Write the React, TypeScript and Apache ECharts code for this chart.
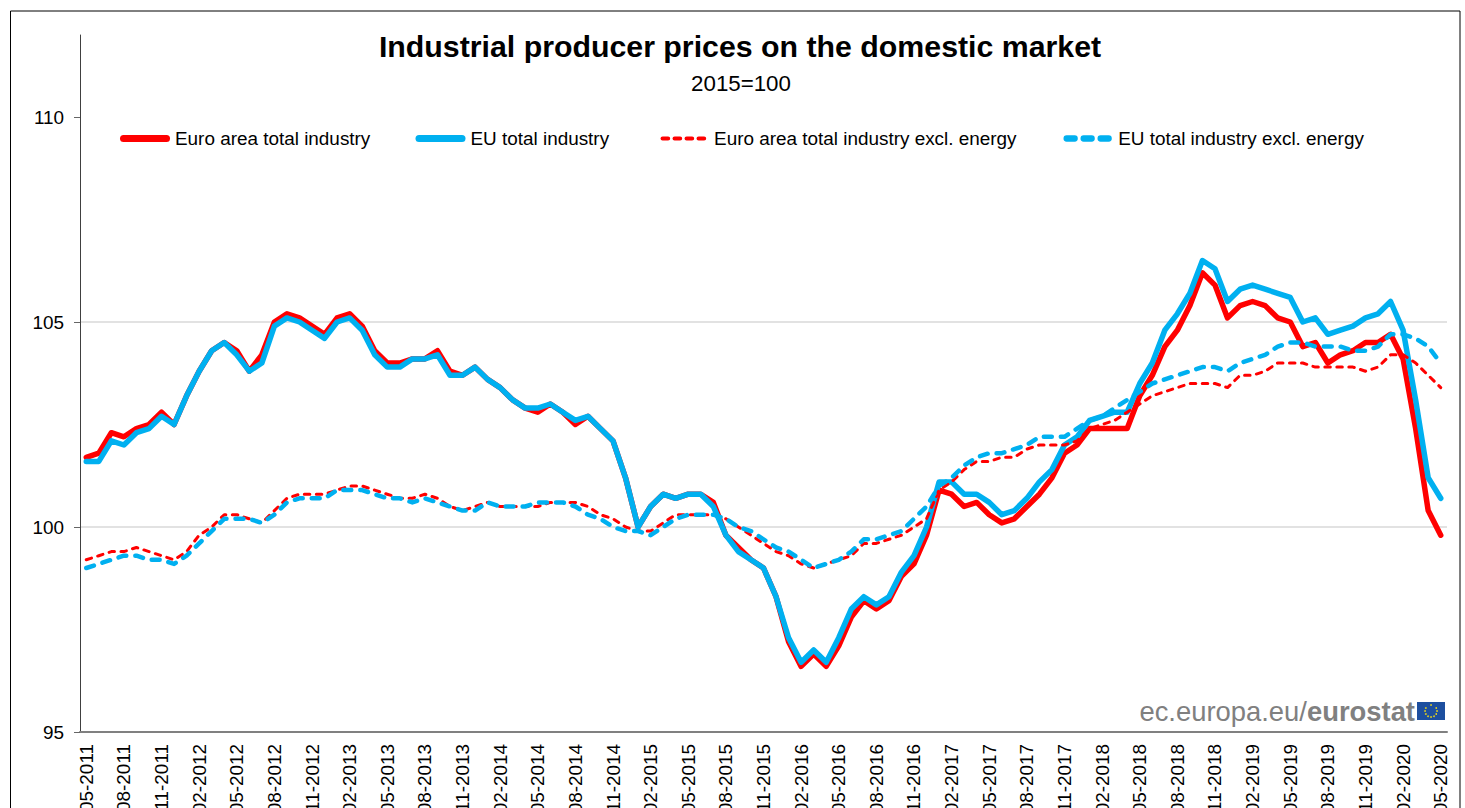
import React, { useEffect, useRef } from "react";
import * as echarts from "echarts";

const categories = [
  "05-2011","06-2011","07-2011","08-2011","09-2011","10-2011","11-2011","12-2011",
  "01-2012","02-2012","03-2012","04-2012","05-2012","06-2012","07-2012","08-2012","09-2012","10-2012","11-2012","12-2012",
  "01-2013","02-2013","03-2013","04-2013","05-2013","06-2013","07-2013","08-2013","09-2013","10-2013","11-2013","12-2013",
  "01-2014","02-2014","03-2014","04-2014","05-2014","06-2014","07-2014","08-2014","09-2014","10-2014","11-2014","12-2014",
  "01-2015","02-2015","03-2015","04-2015","05-2015","06-2015","07-2015","08-2015","09-2015","10-2015","11-2015","12-2015",
  "01-2016","02-2016","03-2016","04-2016","05-2016","06-2016","07-2016","08-2016","09-2016","10-2016","11-2016","12-2016",
  "01-2017","02-2017","03-2017","04-2017","05-2017","06-2017","07-2017","08-2017","09-2017","10-2017","11-2017","12-2017",
  "01-2018","02-2018","03-2018","04-2018","05-2018","06-2018","07-2018","08-2018","09-2018","10-2018","11-2018","12-2018",
  "01-2019","02-2019","03-2019","04-2019","05-2019","06-2019","07-2019","08-2019","09-2019","10-2019","11-2019","12-2019",
  "01-2020","02-2020","03-2020","04-2020","05-2020",
];

const euroTotal = [
  101.7,101.8,102.3,102.2,102.4,102.5,102.8,102.5,
  103.2,103.8,104.3,104.5,104.3,103.8,104.2,105.0,105.2,105.1,104.9,104.7,
  105.1,105.2,104.9,104.3,104.0,104.0,104.1,104.1,104.3,103.8,103.7,103.9,
  103.6,103.4,103.1,102.9,102.8,103.0,102.8,102.5,102.7,102.4,102.1,101.2,
  100.0,100.5,100.8,100.7,100.8,100.8,100.6,99.8,99.5,99.2,99.0,98.3,
  97.2,96.6,96.9,96.6,97.1,97.8,98.2,98.0,98.2,98.8,99.1,99.8,
  100.9,100.8,100.5,100.6,100.3,100.1,100.2,100.5,100.8,101.2,101.8,102.0,
  102.4,102.4,102.4,102.4,103.2,103.7,104.4,104.8,105.4,106.2,105.9,105.1,
  105.4,105.5,105.4,105.1,105.0,104.4,104.5,104.0,104.2,104.3,104.5,104.5,
  104.7,104.1,102.4,100.4,99.8,
];

const euTotal = [
  101.6,101.6,102.1,102.0,102.3,102.4,102.7,102.5,
  103.2,103.8,104.3,104.5,104.2,103.8,104.0,104.9,105.1,105.0,104.8,104.6,
  105.0,105.1,104.8,104.2,103.9,103.9,104.1,104.1,104.2,103.7,103.7,103.9,
  103.6,103.4,103.1,102.9,102.9,103.0,102.8,102.6,102.7,102.4,102.1,101.2,
  100.0,100.5,100.8,100.7,100.8,100.8,100.5,99.8,99.4,99.2,99.0,98.3,
  97.3,96.7,97.0,96.7,97.3,98.0,98.3,98.1,98.3,98.9,99.3,100.0,
  101.1,101.1,100.8,100.8,100.6,100.3,100.4,100.7,101.1,101.4,102.0,102.2,
  102.6,102.7,102.8,102.8,103.5,104.0,104.8,105.2,105.7,106.5,106.3,105.5,
  105.8,105.9,105.8,105.7,105.6,105.0,105.1,104.7,104.8,104.9,105.1,105.2,
  105.5,104.8,103.1,101.2,100.7,
];

const euroExEnergy = [
  99.2,99.3,99.4,99.4,99.5,99.4,99.3,99.2,
  99.4,99.8,100.0,100.3,100.3,100.2,100.1,100.4,100.7,100.8,100.8,100.8,
  100.9,101.0,101.0,100.9,100.8,100.7,100.7,100.8,100.7,100.5,100.4,100.5,
  100.6,100.5,100.5,100.5,100.5,100.6,100.6,100.6,100.5,100.3,100.2,100.0,
  99.9,99.9,100.1,100.3,100.3,100.3,100.3,100.2,100.0,99.8,99.6,99.4,
  99.3,99.1,99.0,99.1,99.2,99.3,99.6,99.6,99.7,99.8,100.0,100.2,
  100.9,101.1,101.4,101.6,101.6,101.7,101.7,101.9,102.0,102.0,102.0,102.1,
  102.4,102.5,102.6,102.8,103.0,103.2,103.3,103.4,103.5,103.5,103.5,103.4,
  103.7,103.7,103.8,104.0,104.0,104.0,103.9,103.9,103.9,103.9,103.8,103.9,
  104.2,104.2,104.0,103.7,103.4,
];

const euExEnergy = [
  99.0,99.1,99.2,99.3,99.3,99.2,99.2,99.1,
  99.3,99.6,99.9,100.2,100.2,100.2,100.1,100.3,100.6,100.7,100.7,100.7,
  100.9,100.9,100.9,100.8,100.7,100.7,100.6,100.7,100.6,100.5,100.4,100.4,
  100.6,100.5,100.5,100.5,100.6,100.6,100.6,100.5,100.3,100.2,100.0,99.9,
  99.9,99.8,100.0,100.2,100.3,100.3,100.3,100.2,100.0,99.9,99.7,99.5,
  99.4,99.2,99.0,99.1,99.2,99.4,99.7,99.7,99.8,99.9,100.2,100.5,
  101.0,101.2,101.5,101.7,101.8,101.8,101.9,102.0,102.2,102.2,102.2,102.4,
  102.6,102.7,102.9,103.1,103.3,103.5,103.6,103.7,103.8,103.9,103.9,103.8,
  104.0,104.1,104.2,104.4,104.5,104.5,104.4,104.4,104.4,104.3,104.3,104.4,
  104.7,104.7,104.6,104.4,104.0,
];

const seriesNames = [
  "Euro area total industry",
  "EU total industry",
  "Euro area total industry excl. energy",
  "EU total industry excl. energy",
];
const yTicks = [95, 100, 105, 110];
const FONT = '"Liberation Sans", Arial, sans-serif';
const RED = "#FF0000";
const BLUE = "#00B0F0";
const DASH_RED = [5.5, 6.5];
const DASH_BLUE = [8, 9];
const legendLefts = [120, 415.5, 660.5, 1063.5];
const legendLines = [
  { color: RED, width: 5, type: "solid" },
  { color: BLUE, width: 5, type: "solid" },
  { color: RED, width: 3, type: DASH_RED },
  { color: BLUE, width: 4.5, type: DASH_BLUE },
];

function flagGraphic() {
  const stars: any[] = [];
  for (let k = 0; k < 12; k++) {
    const a = (k / 12) * Math.PI * 2;
    stars.push({
      type: "circle",
      shape: { cx: 1431 + Math.cos(a) * 6, cy: 711 + Math.sin(a) * 6, r: 0.9 },
      style: { fill: "#E5D21E" },
    });
  }
  return [
    { type: "rect", shape: { x: 1417, y: 702, width: 28, height: 18 }, style: { fill: "#1D4F9F" } },
    ...stars,
  ];
}

export default function App() {
  const ref = useRef<HTMLDivElement>(null);
  useEffect(() => {
    const chart = echarts.init(ref.current!, undefined, { renderer: "svg" });
    const line = (name: string, data: number[], color: string, width: number, dash?: number[]) => ({
      name,
      type: "line",
      data,
      showSymbol: false,
      symbol: "none",
      smooth: false,
      lineStyle: { color, width, type: dash ?? "solid", cap: "round", join: "round" },
      itemStyle: { color },
    });
    chart.setOption({
      animation: false,
      backgroundColor: "#ffffff",
      textStyle: { fontFamily: FONT },
      title: [
        {
          text: "Industrial producer prices on the domestic market",
          left: 740,
          top: 31,
          padding: 0,
          textAlign: "center",
          textStyle: { fontFamily: FONT, fontSize: 30.3, fontWeight: "bold", color: "#000" },
        },
        {
          text: "2015=100",
          left: 741,
          top: 72,
          padding: 0,
          textAlign: "center",
          textStyle: { fontFamily: FONT, fontSize: 22.3, fontWeight: "normal", color: "#000" },
        },
      ],
      legend: seriesNames.map((name, i) => ({
        data: [name],
        left: legendLefts[i],
        top: 129,
        padding: 0,
        itemWidth: 43,
        itemHeight: 20,
        itemGap: 0,
        itemStyle: { opacity: 0 },
        lineStyle: {
          color: legendLines[i].color,
          width: legendLines[i].width * 1.4,
          type: legendLines[i].type,
          cap: "round",
        },
        textStyle: { fontFamily: FONT, fontSize: 18.9, color: "#000", padding: [0, 0, 0, 3.5] },
      })),
      grid: { left: 80, right: 18, top: 35, bottom: 76, containLabel: false, outerBoundsMode: "none" },
      xAxis: {
        type: "category",
        data: categories,
        boundaryGap: true,
        axisLine: { lineStyle: { color: "#808080", width: 2 } },
        axisTick: { interval: 2, length: 5, lineStyle: { color: "#404040", width: 1 } },
        axisLabel: { interval: 2, rotate: 90, margin: 12, color: "#000", fontFamily: FONT, fontSize: 18.9 },
        splitLine: { show: false },
      },
      yAxis: {
        type: "value",
        min: 95,
        max: 112,
        interval: 5,
        axisLine: { show: true, lineStyle: { color: "#404040", width: 1 } },
        axisTick: { show: true, length: 6, customValues: yTicks, lineStyle: { color: "#666", width: 1 } },
        axisLabel: { margin: 16, color: "#000", fontFamily: FONT, fontSize: 18.9, customValues: yTicks },
        splitLine: {
          show: true,
          showMinLine: false,
          showMaxLine: false,
          lineStyle: { color: "#D9D9D9", width: 1.5 },
        },
      },
      series: [
        line(seriesNames[0], euroTotal, RED, 5.5),
        line(seriesNames[1], euTotal, BLUE, 5.5),
        line(seriesNames[2], euroExEnergy, RED, 3, DASH_RED),
        line(seriesNames[3], euExEnergy, BLUE, 4.5, DASH_BLUE),
      ],
      graphic: [
        {
          type: "polyline",
          shape: { points: [[10.5, 830], [10.5, 11], [1460, 11], [1460, 830]] },
          style: { fill: "none", stroke: "#000", lineWidth: 1 },
        },
        {
          type: "text",
          x: 1415,
          y: 711,
          style: {
            text: "{a|ec.europa.eu/}{b|eurostat}",
            align: "right",
            verticalAlign: "middle",
            rich: {
              a: { fontFamily: FONT, fontSize: 27.4, fill: "#808080", fontWeight: "normal" },
              b: { fontFamily: FONT, fontSize: 27.4, fill: "#808080", fontWeight: "bold" },
            },
          },
        },
        ...flagGraphic(),
      ],
    });
    return () => chart.dispose();
  }, []);
  return (
    <div
      ref={ref}
      style={{ position: "absolute", left: 0, top: 0, width: 1465, height: 808 }}
    />
  );
}
